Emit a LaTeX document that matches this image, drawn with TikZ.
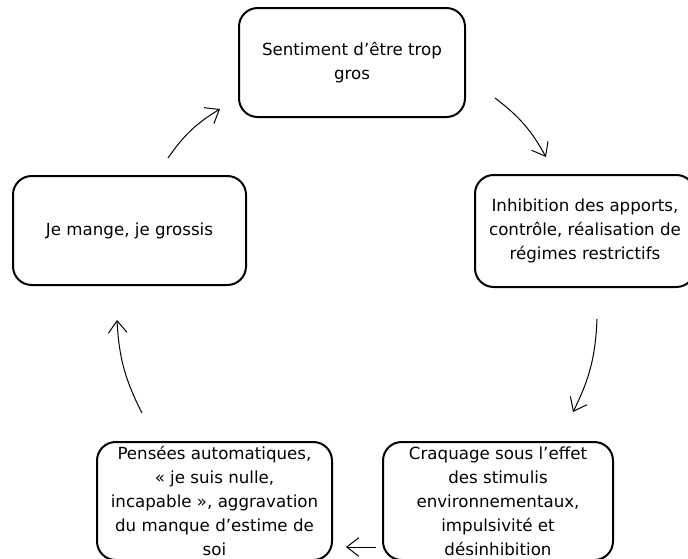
\documentclass[tikz,border=0pt]{standalone}
\usepackage{fontspec}
\setmainfont{DejaVu Sans}
\usetikzlibrary{arrows.meta}

\begin{document}
\begin{tikzpicture}[
  x=0.75pt, y=-0.75pt,
  font=\fontsize{12.5pt}{18pt}\selectfont,
  box/.style={draw, line width=1.5pt, rounded corners=14pt, align=center, inner sep=0pt},
  arrow/.style={-{Straight Barb[length=9pt,width=14pt]}, line width=0.75pt, bend left=12}
]
\useasboundingbox (0,0) rectangle (688,558);

\node[box, minimum width=169.5pt, minimum height=81.75pt] (sentiment) at (352,62.5) {Sentiment d’être trop\\gros};
\node[box, minimum width=165pt, minimum height=84pt] (inhibition) at (585,231) {Inhibition des apports,\\contrôle, réalisation de\\régimes restrictifs};
\node[box, minimum width=172.5pt, minimum height=88.5pt] (craquage) at (498,501) {Craquage sous l’effet\\des stimulis\\environnementaux,\\impulsivité et\\désinhibition};
\node[box, minimum width=176.25pt, minimum height=88.5pt] (pensees) at (214.5,501) {Pensées automatiques,\\« je suis nulle,\\incapable », aggravation\\du manque d’estime de\\soi};
\node[box, minimum width=174.75pt, minimum height=81.75pt] (mange) at (129.5,230.5) {Je mange, je grossis};

% free ends of the arrows
\coordinate (a1s) at (168,158);
\coordinate (a1e) at (220,109);
\coordinate (a2s) at (495,98);
\coordinate (a2e) at (546,157);
\coordinate (a3s) at (597,319);
\coordinate (a3e) at (573,412);
\coordinate (a4s) at (376,547);
\coordinate (a4e) at (346,547);
\coordinate (a5s) at (142,413);
\coordinate (a5e) at (117,320);

\draw[arrow] (a1s) to (a1e);
\draw[arrow] (a2s) to (a2e);
\draw[arrow] (a3s) to (a3e);
\draw[arrow, bend left=0] (a4s) to (a4e);
\draw[arrow] (a5s) to (a5e);
\end{tikzpicture}
\end{document}
